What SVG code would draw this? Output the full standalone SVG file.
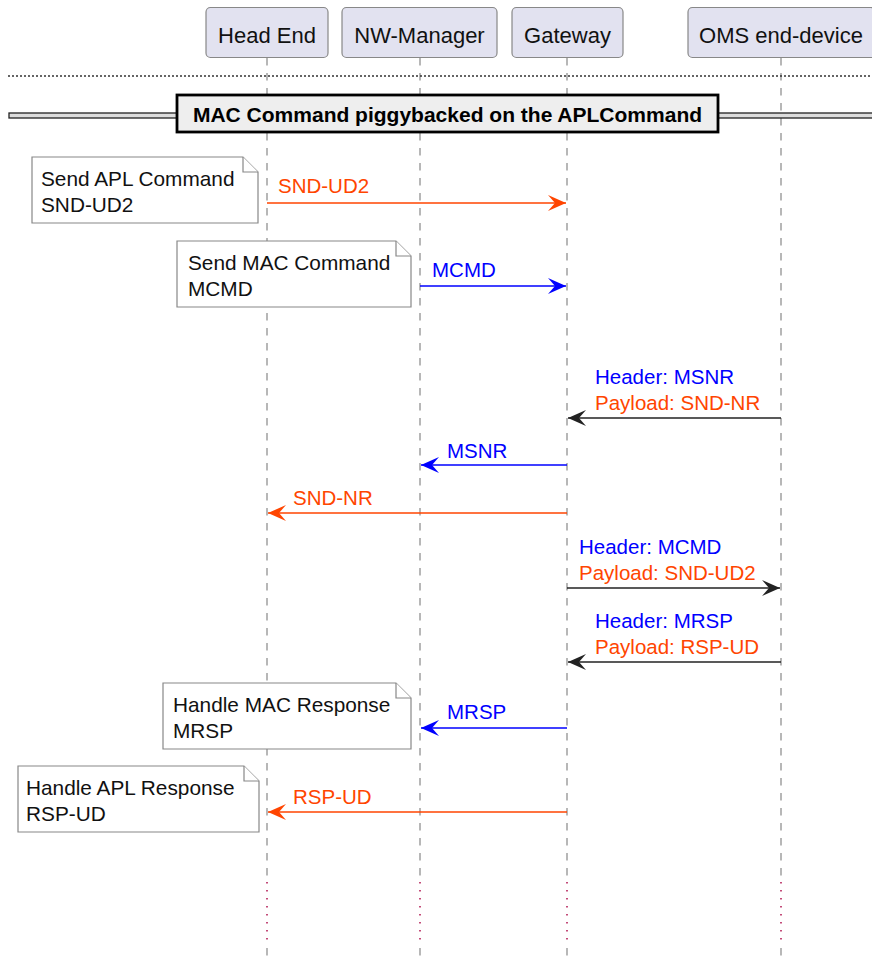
<svg xmlns="http://www.w3.org/2000/svg" width="872" height="956" viewBox="0 0 872 956">
  <defs>
    <style>
      text { font-family: "Liberation Sans", Arial, sans-serif; }
      .part rect { fill: #E2E2F0; stroke: #888888; stroke-width: 1.2; }
      .part text { font-size: 22px; fill: #111111; text-anchor: middle; }
      .life { stroke: #888888; stroke-width: 1.2; stroke-dasharray: 7.5 7.5; fill: none; }
      .delay { stroke: #B0124E; stroke-width: 1.5; stroke-dasharray: 1.5 6.5; fill: none; }
      .note path { fill: #FFFFFF; stroke: #888888; stroke-width: 1.2; }
      .note text { font-size: 20.8px; fill: #111111; }
      .msg { stroke-width: 1.6; fill: none; }
      .lbl { font-size: 20.5px; }
      .apl { stroke: #FF4500; fill: #FF4500; }
      .mac { stroke: #0000FF; fill: #0000FF; }
      .oms { stroke: #222222; fill: #222222; }
      .tapl { fill: #FF4500; }
      .tmac { fill: #0000FF; }
    </style>
    <marker id="headApl" viewBox="-19 -9 20 18" refX="0" refY="0" markerWidth="20" markerHeight="18" markerUnits="userSpaceOnUse" orient="auto">
      <path d="M0,0 L-18,-8 L-11,0 L-18,8 Z" fill="#FF4500"/>
    </marker>
    <marker id="headMac" viewBox="-19 -9 20 18" refX="0" refY="0" markerWidth="20" markerHeight="18" markerUnits="userSpaceOnUse" orient="auto">
      <path d="M0,0 L-18,-8 L-11,0 L-18,8 Z" fill="#0000FF"/>
    </marker>
    <marker id="headOms" viewBox="-19 -9 20 18" refX="0" refY="0" markerWidth="20" markerHeight="18" markerUnits="userSpaceOnUse" orient="auto">
      <path d="M0,0 L-18,-8 L-11,0 L-18,8 Z" fill="#222222"/>
    </marker>
  </defs>

  <rect x="0" y="0" width="872" height="956" fill="#FFFFFF"/>

  <!-- lifelines -->
  <g id="lifelines">
    <line class="life" x1="267" y1="58" x2="267" y2="880"/>
    <line class="life" x1="420" y1="58" x2="420" y2="880"/>
    <line class="life" x1="567" y1="58" x2="567" y2="880"/>
    <line class="life" x1="781" y1="58" x2="781" y2="880"/>
    <line class="delay" x1="267" y1="882" x2="267" y2="946"/>
    <line class="delay" x1="420" y1="882" x2="420" y2="946"/>
    <line class="delay" x1="567" y1="882" x2="567" y2="946"/>
    <line class="delay" x1="781" y1="882" x2="781" y2="946"/>
    <line class="life" x1="267" y1="948" x2="267" y2="956"/>
    <line class="life" x1="420" y1="948" x2="420" y2="956"/>
    <line class="life" x1="567" y1="948" x2="567" y2="956"/>
    <line class="life" x1="781" y1="948" x2="781" y2="956"/>
  </g>

  <!-- participants -->
  <g id="head-end" class="part">
    <rect x="206" y="7.5" width="122" height="50" rx="4.5"/>
    <text x="267" y="43">Head End</text>
  </g>
  <g id="nw-manager" class="part">
    <rect x="342" y="7.5" width="155" height="50" rx="4.5"/>
    <text x="419.5" y="43">NW-Manager</text>
  </g>
  <g id="gateway" class="part">
    <rect x="512" y="7.5" width="111" height="50" rx="4.5"/>
    <text x="567.5" y="43">Gateway</text>
  </g>
  <g id="oms-end-device" class="part">
    <rect x="688" y="7.5" width="187" height="50" rx="4.5"/>
    <text x="781" y="43">OMS end-device</text>
  </g>

  <!-- separator and divider -->
  <g id="separator">
    <line x1="8" y1="76" x2="872" y2="76" stroke="#333333" stroke-width="1.3" stroke-dasharray="2 2"/>
  </g>
  <g id="divider">
    <rect x="9" y="113" width="870" height="5" fill="#DDDDDD" stroke="#222222" stroke-width="1.3"/>
    <rect x="177" y="95" width="541" height="37" fill="#EEEEEE" stroke="#000000" stroke-width="2.8"/>
    <text x="447.5" y="121.5" font-size="21" font-weight="bold" text-anchor="middle" fill="#000000">MAC Command piggybacked on the APLCommand</text>
  </g>

  <!-- notes -->
  <g id="note-send-apl" class="note">
    <path d="M32,157 L243,157 L258,172 L258,223 L32,223 Z"/>
    <path d="M243,157 L243,172 L258,172"/>
    <text x="41" y="186">Send APL Command</text>
    <text x="41" y="212">SND-UD2</text>
  </g>
  <g id="note-send-mac" class="note">
    <path d="M177,241 L396,241 L411,256 L411,307 L177,307 Z"/>
    <path d="M396,241 L396,256 L411,256"/>
    <text x="188" y="270">Send MAC Command</text>
    <text x="188" y="296">MCMD</text>
  </g>
  <g id="note-handle-mac" class="note">
    <path d="M163,683 L396,683 L411,698 L411,749 L163,749 Z"/>
    <path d="M396,683 L396,698 L411,698"/>
    <text x="173" y="712">Handle MAC Response</text>
    <text x="173" y="738">MRSP</text>
  </g>
  <g id="note-handle-apl" class="note">
    <path d="M18,766 L244,766 L259,781 L259,832 L18,832 Z"/>
    <path d="M244,766 L244,781 L259,781"/>
    <text x="26" y="795">Handle APL Response</text>
    <text x="26" y="821">RSP-UD</text>
  </g>

  <!-- messages -->
  <g id="connectors">
    <line class="msg apl" x1="267" y1="203" x2="566" y2="203" marker-end="url(#headApl)"/>
    <text class="lbl tapl" x="278" y="193">SND-UD2</text>

    <line class="msg mac" x1="420" y1="286" x2="566" y2="286" marker-end="url(#headMac)"/>
    <text class="lbl tmac" x="432" y="277">MCMD</text>

    <line class="msg oms" x1="781" y1="418" x2="568" y2="418" marker-end="url(#headOms)"/>
    <text class="lbl tmac" x="595" y="384">Header: MSNR</text>
    <text class="lbl tapl" x="595" y="410">Payload: SND-NR</text>

    <line class="msg mac" x1="567" y1="465" x2="421" y2="465" marker-end="url(#headMac)"/>
    <text class="lbl tmac" x="447" y="458">MSNR</text>

    <line class="msg apl" x1="567" y1="513" x2="268" y2="513" marker-end="url(#headApl)"/>
    <text class="lbl tapl" x="293" y="505">SND-NR</text>

    <line class="msg oms" x1="567" y1="588" x2="780" y2="588" marker-end="url(#headOms)"/>
    <text class="lbl tmac" x="579" y="554">Header: MCMD</text>
    <text class="lbl tapl" x="579" y="580">Payload: SND-UD2</text>

    <line class="msg oms" x1="781" y1="662" x2="568" y2="662" marker-end="url(#headOms)"/>
    <text class="lbl tmac" x="595" y="628">Header: MRSP</text>
    <text class="lbl tapl" x="595" y="654">Payload: RSP-UD</text>

    <line class="msg mac" x1="567" y1="728" x2="421" y2="728" marker-end="url(#headMac)"/>
    <text class="lbl tmac" x="447" y="719">MRSP</text>

    <line class="msg apl" x1="567" y1="812" x2="268" y2="812" marker-end="url(#headApl)"/>
    <text class="lbl tapl" x="293" y="804">RSP-UD</text>
  </g>
</svg>
